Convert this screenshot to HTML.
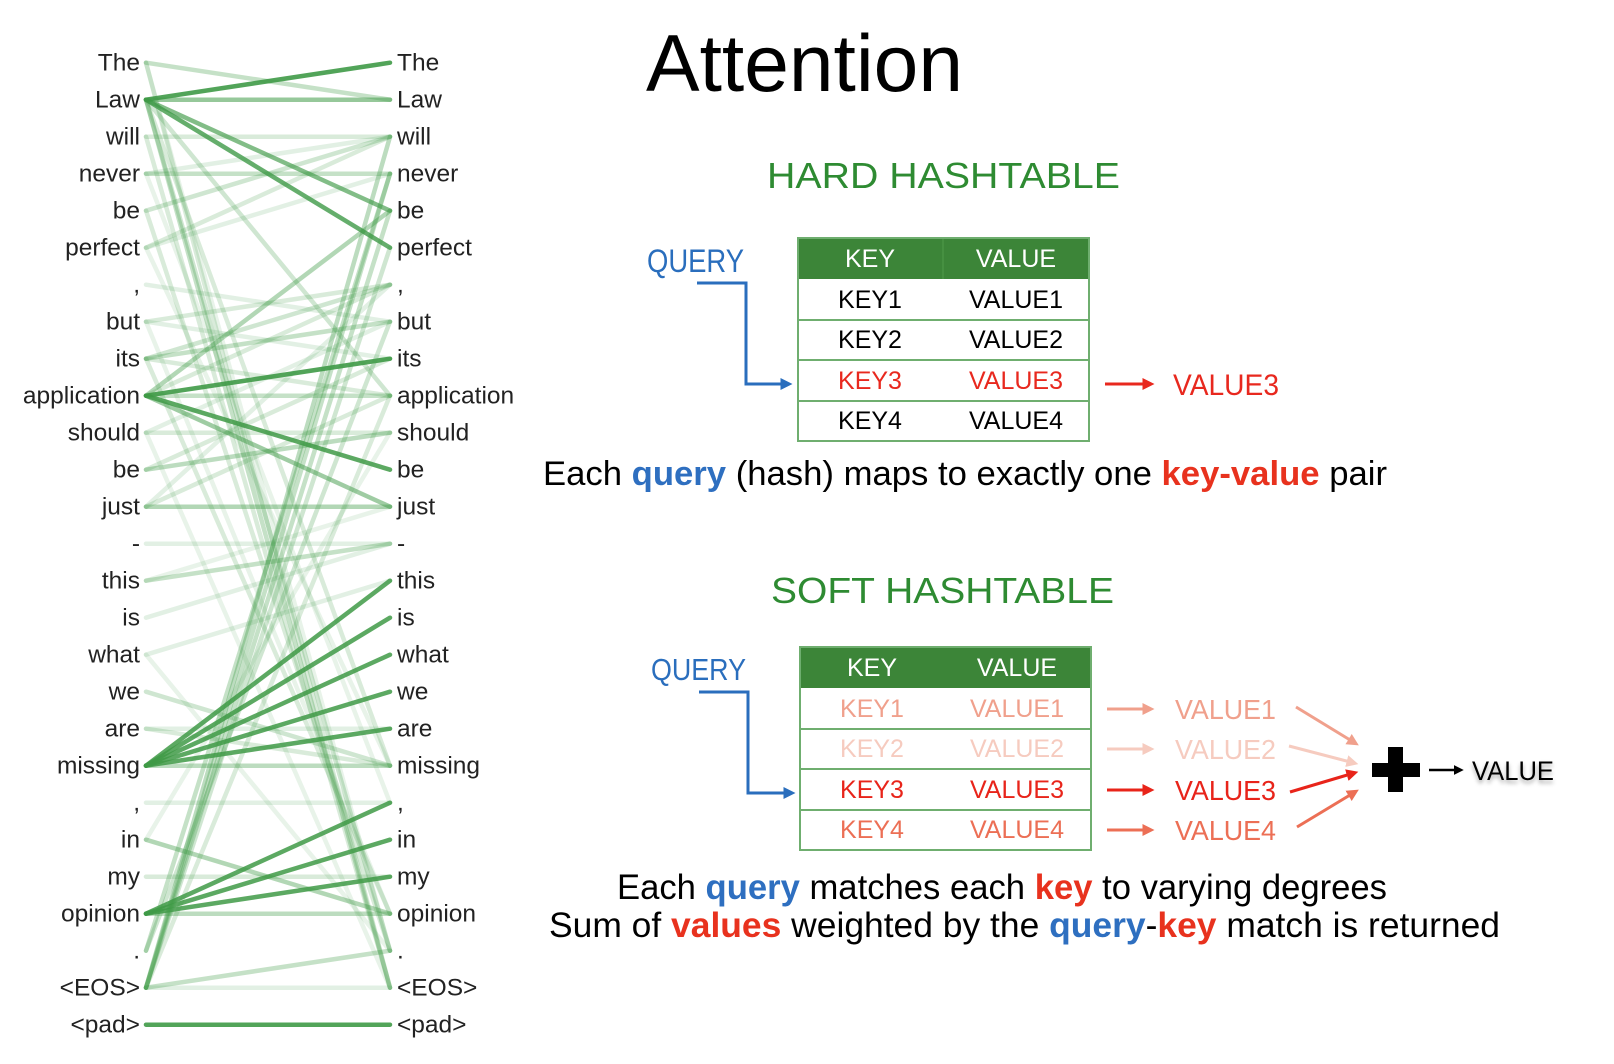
<!DOCTYPE html>
<html><head><meta charset="utf-8"><style>
html,body{margin:0;padding:0;background:#fff;}
svg{display:block;}
text{font-family:"Liberation Sans",sans-serif;}
</style></head><body>
<svg id="s" width="1614" height="1064" viewBox="0 0 1614 1064">
<defs>
<marker id="mb" markerWidth="4" markerHeight="4" refX="2.5" refY="2" orient="auto" markerUnits="strokeWidth"><path d="M0,0 L4,2 L0,4 Z" fill="#2a6ebd"/></marker>
<marker id="mr" markerWidth="4" markerHeight="4" refX="2.5" refY="2" orient="auto" markerUnits="strokeWidth"><path d="M0,0 L4,2 L0,4 Z" fill="#e8281e"/></marker>
<marker id="m1" markerWidth="4" markerHeight="4" refX="2.5" refY="2" orient="auto" markerUnits="strokeWidth"><path d="M0,0 L4,2 L0,4 Z" fill="#f0a08c"/></marker>
<marker id="m2" markerWidth="4" markerHeight="4" refX="2.5" refY="2" orient="auto" markerUnits="strokeWidth"><path d="M0,0 L4,2 L0,4 Z" fill="#f6cbbf"/></marker>
<marker id="m3" markerWidth="4" markerHeight="4" refX="2.5" refY="2" orient="auto" markerUnits="strokeWidth"><path d="M0,0 L4,2 L0,4 Z" fill="#e8241a"/></marker>
<marker id="m4" markerWidth="4" markerHeight="4" refX="2.5" refY="2" orient="auto" markerUnits="strokeWidth"><path d="M0,0 L4,2 L0,4 Z" fill="#ec6f55"/></marker>
<marker id="mk" markerWidth="4" markerHeight="4" refX="2.5" refY="2" orient="auto" markerUnits="strokeWidth"><path d="M0,0 L4,2 L0,4 Z" fill="#000"/></marker>
<filter id="sh" x="-10%" y="-30%" width="130%" height="180%"><feDropShadow dx="0" dy="3" stdDeviation="2" flood-color="#000" flood-opacity="0.35"/></filter>
</defs>
<g id="links"></g>
<g id="words"></g>

<text x="646" y="91" font-size="81" textLength="317" lengthAdjust="spacingAndGlyphs">Attention</text>

<!-- HARD -->
<text x="767" y="188" font-size="36" fill="#2e8b32" textLength="353" lengthAdjust="spacingAndGlyphs">HARD HASHTABLE</text>
<text x="647" y="272" font-size="32" fill="#2a6ebd" textLength="97" lengthAdjust="spacingAndGlyphs">QUERY</text>
<polyline points="697,283 746,283 746,384 788,384" fill="none" stroke="#2a6ebd" stroke-width="3" marker-end="url(#mb)"/>
<g>
<rect x="798" y="238" width="291" height="41" fill="#3c8538"/>
<line x1="943" y1="238" x2="943" y2="279" stroke="#4f9a4a" stroke-width="1"/>
<rect x="798" y="238" width="291" height="203" fill="none" stroke="#6fae6f" stroke-width="2"/>
<line x1="798" y1="320" x2="1089" y2="320" stroke="#6fae6f" stroke-width="2"/>
<line x1="798" y1="360" x2="1089" y2="360" stroke="#6fae6f" stroke-width="2"/>
<line x1="798" y1="401" x2="1089" y2="401" stroke="#6fae6f" stroke-width="2"/>
<g font-size="25" text-anchor="middle">
<text x="870" y="267" fill="#fff">KEY</text><text x="1016" y="267" fill="#fff">VALUE</text>
<text x="870" y="308">KEY1</text><text x="1016" y="308">VALUE1</text>
<text x="870" y="348">KEY2</text><text x="1016" y="348">VALUE2</text>
<text x="870" y="389" fill="#e8281e">KEY3</text><text x="1016" y="389" fill="#e8281e">VALUE3</text>
<text x="870" y="429">KEY4</text><text x="1016" y="429">VALUE4</text>
</g></g>
<line x1="1105" y1="384" x2="1150" y2="384" stroke="#e8281e" stroke-width="3" marker-end="url(#mr)"/>
<text x="1173" y="395" font-size="30" fill="#e8281e" textLength="106" lengthAdjust="spacingAndGlyphs">VALUE3</text>
<text x="543" y="485" font-size="34" textLength="844" lengthAdjust="spacingAndGlyphs">Each <tspan fill="#2e6fc0" font-weight="bold">query</tspan> (hash) maps to exactly one <tspan fill="#e8321e" font-weight="bold">key-value</tspan> pair</text>

<!-- SOFT -->
<text x="771" y="603" font-size="36" fill="#2e8b32" textLength="343" lengthAdjust="spacingAndGlyphs">SOFT HASHTABLE</text>
<text x="651" y="680" font-size="31" fill="#2a6ebd" textLength="95" lengthAdjust="spacingAndGlyphs">QUERY</text>
<polyline points="699,692 748,692 748,793 791,793" fill="none" stroke="#2a6ebd" stroke-width="3" marker-end="url(#mb)"/>
<g>
<rect x="800" y="647" width="291" height="41" fill="#3c8538"/>
<rect x="800" y="647" width="291" height="203" fill="none" stroke="#6fae6f" stroke-width="2"/>
<line x1="800" y1="729" x2="1091" y2="729" stroke="#6fae6f" stroke-width="2"/>
<line x1="800" y1="769" x2="1091" y2="769" stroke="#6fae6f" stroke-width="2"/>
<line x1="800" y1="810" x2="1091" y2="810" stroke="#6fae6f" stroke-width="2"/>
<g font-size="25" text-anchor="middle">
<text x="872" y="676" fill="#fff">KEY</text><text x="1017" y="676" fill="#fff">VALUE</text>
<text x="872" y="717" fill="#f0a08c">KEY1</text><text x="1017" y="717" fill="#f0a08c">VALUE1</text>
<text x="872" y="757" fill="#f6cbbf">KEY2</text><text x="1017" y="757" fill="#f6cbbf">VALUE2</text>
<text x="872" y="798" fill="#e8241a">KEY3</text><text x="1017" y="798" fill="#e8241a">VALUE3</text>
<text x="872" y="838" fill="#ec6f55">KEY4</text><text x="1017" y="838" fill="#ec6f55">VALUE4</text>
</g></g>
<g stroke-width="3">
<line x1="1107" y1="709" x2="1150" y2="709" stroke="#f0a08c" marker-end="url(#m1)"/>
<line x1="1107" y1="749" x2="1150" y2="749" stroke="#f6cbbf" marker-end="url(#m2)"/>
<line x1="1107" y1="790" x2="1150" y2="790" stroke="#e8241a" marker-end="url(#m3)"/>
<line x1="1107" y1="830" x2="1150" y2="830" stroke="#ec6f55" marker-end="url(#m4)"/>
<line x1="1296" y1="707" x2="1355" y2="743" stroke="#f0a08c" marker-end="url(#m1)"/>
<line x1="1289" y1="746" x2="1354" y2="763" stroke="#f6cbbf" marker-end="url(#m2)"/>
<line x1="1290" y1="792" x2="1354" y2="773" stroke="#e8241a" marker-end="url(#m3)"/>
<line x1="1297" y1="827" x2="1355" y2="792" stroke="#ec6f55" marker-end="url(#m4)"/>
</g>
<g font-size="28">
<text x="1175" y="719" fill="#f0a08c" textLength="101" lengthAdjust="spacingAndGlyphs">VALUE1</text>
<text x="1175" y="759" fill="#f6cbbf" textLength="101" lengthAdjust="spacingAndGlyphs">VALUE2</text>
<text x="1175" y="800" fill="#e8241a" textLength="101" lengthAdjust="spacingAndGlyphs">VALUE3</text>
<text x="1175" y="840" fill="#ec6f55" textLength="101" lengthAdjust="spacingAndGlyphs">VALUE4</text>
</g>
<path d="M1388,747 h15 v16 h17 v14 h-17 v15 h-15 v-15 h-16 v-14 h16 Z" fill="#000"/>
<line x1="1429" y1="770" x2="1460" y2="770" stroke="#000" stroke-width="2.5" marker-end="url(#mk)"/>
<text x="1472" y="780" font-size="27" filter="url(#sh)" textLength="82" lengthAdjust="spacingAndGlyphs">VALUE</text>
<text x="617" y="899" font-size="35" textLength="770" lengthAdjust="spacingAndGlyphs">Each <tspan fill="#2e6fc0" font-weight="bold">query</tspan> matches each <tspan fill="#e8321e" font-weight="bold">key</tspan> to varying degrees</text>
<text x="549" y="937" font-size="35" textLength="951" lengthAdjust="spacingAndGlyphs">Sum of <tspan fill="#e8321e" font-weight="bold">values</tspan> weighted by the <tspan fill="#2e6fc0" font-weight="bold">query</tspan>-<tspan fill="#e8321e" font-weight="bold">key</tspan> match is returned</text>
</svg>
<script>
const tokens = ["The","Law","will","never","be","perfect",",","but","its","application","should","be","just","-","this","is","what","we","are","missing",",","in","my","opinion",".","<EOS>","<pad>"];
const linkSources = [1,1,1,1,9,9,9,19,19,19,19,19,19,23,23,23,23,26,
  0,0,1,1,1,1,2,3,3,4,5,5,6,7,7,8,8,8,9,9,9,10,10,11,11,12,12,12,13,14,15,16,17,18,18,20,21,22,24,25,25,25,25,25,25,24,2,4,8,25,0,3,5,7,10,14,16,21];
const linkTargets = [0,1,4,5,8,11,12,14,15,16,17,18,19,20,21,22,23,26,
  1,25,25,24,19,9,2,3,2,2,2,3,7,6,8,7,6,9,4,6,9,10,7,10,8,12,9,6,13,13,13,14,19,19,18,20,23,22,3,2,4,5,24,25,3,7,25,24,23,9,24,20,19,23,25,12,24,10];
const linkWeights = [0.9,0.55,0.65,0.8,0.9,0.85,0.5,0.85,0.85,0.85,0.85,0.85,0.35,0.85,0.85,0.85,0.35,0.9,
  0.3,0.2,0.3,0.25,0.2,0.25,0.2,0.3,0.15,0.25,0.2,0.15,0.15,0.2,0.15,0.3,0.25,0.2,0.4,0.2,0.3,0.2,0.15,0.35,0.2,0.4,0.2,0.15,0.15,0.3,0.15,0.15,0.25,0.2,0.15,0.15,0.4,0.2,0.3,0.35,0.3,0.25,0.3,0.15,0.3,0.25,0.2,0.2,0.2,0.2,0.12,0.12,0.12,0.12,0.12,0.12,0.12,0.12];
const NS="http://www.w3.org/2000/svg";
const xLeft=146, xRight=390, y0=62.7, step=37;
function yScale(i){return y0+step*i;}
const links=document.getElementById('links'), words=document.getElementById('words');
for(let k=0;k<linkSources.length;k++){
  const l=document.createElementNS(NS,'line');
  l.setAttribute('x1',xLeft);l.setAttribute('y1',yScale(linkSources[k]));
  l.setAttribute('x2',xRight);l.setAttribute('y2',yScale(linkTargets[k]));
  l.setAttribute('stroke','#3f9a47');l.setAttribute('stroke-width','4.5');
  l.setAttribute('stroke-opacity',linkWeights[k]);l.setAttribute('stroke-linecap','round');
  
  
  links.appendChild(l);
}
tokens.forEach((t,i)=>{
  const a=document.createElementNS(NS,'text');
  a.setAttribute('x',xLeft-6);a.setAttribute('y',yScale(i)+8);a.setAttribute('font-size','24.5');
  a.setAttribute('text-anchor','end');a.setAttribute('fill','#222');a.textContent=t;
  
  
  words.appendChild(a);
  const b=document.createElementNS(NS,'text');
  b.setAttribute('x',xRight+7);b.setAttribute('y',yScale(i)+8);b.setAttribute('font-size','24.5');
  b.setAttribute('fill','#222');b.textContent=t;
  
  
  words.appendChild(b);
});
</script>
</body></html>
